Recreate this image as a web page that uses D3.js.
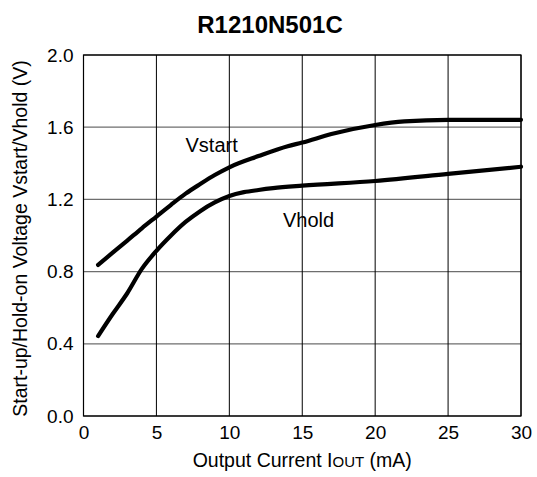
<!DOCTYPE html>
<html>
<head>
<meta charset="utf-8">
<script src="https://cdn.jsdelivr.net/npm/d3@7"></script>
<style>
  body { margin: 0; background: #fff; }
  text { font-family: "Liberation Sans", Arial, sans-serif; fill: #000; }
</style>
</head>
<body>
<div id="chart"></div>
<script>
// data: [Iout mA, volts]
var vstartData = [[1,0.837],[2,0.905],[3,0.972],[4,1.04],[5,1.105],[6,1.17],[7,1.232],[8,1.285],[9,1.335],[10,1.378],
  [12,1.44],[14,1.495],[15,1.515],[17,1.562],[20,1.612],[22,1.632],[25,1.641],[30,1.641]]
var vholdData = [[1,0.443],[2,0.565],[3,0.68],[4,0.815],[5,0.915],[6,1.0],[7,1.075],[8,1.135],[9,1.183],[10,1.219],
  [11,1.24],[12,1.252],[13,1.262],[15,1.276],[20,1.302],[25,1.341],[30,1.381]]
var xTicks = [0, 5, 10, 15, 20, 25, 30]
var yTicks = [0, 0.4, 0.8, 1.2, 1.6, 2.0]

var width = 537, height = 477
var margin = {top: 55, right: 16, bottom: 61, left: 83.5}

var svg = d3.select("#chart").append("svg")
  .attr("width", width)
  .attr("height", height)

var x = d3.scaleLinear().domain([0, 30]).range([margin.left, width - margin.right])
var y = d3.scaleLinear().domain([0, 2]).range([height - margin.bottom, margin.top])

// horizontal grid (grey)
svg.append("g").selectAll("line")
  .data(yTicks)
  .enter().append("line")
  .attr("x1", x(0)).attr("x2", x(30))
  .attr("y1", function(d) { return y(d) }).attr("y2", function(d) { return y(d) })
  .attr("stroke", "#6e6e6e")
  .attr("stroke-width", 1.3)

// vertical grid (black)
svg.append("g").selectAll("line")
  .data(xTicks)
  .enter().append("line")
  .attr("x1", function(d) { return x(d) }).attr("x2", function(d) { return x(d) })
  .attr("y1", y(0)).attr("y2", y(2))
  .attr("stroke", "#000")
  .attr("stroke-width", 1)

// frame
svg.append("rect")
  .attr("x", x(0)).attr("y", y(2))
  .attr("width", x(30) - x(0)).attr("height", y(0) - y(2))
  .attr("fill", "none")
  .attr("stroke", "#000")
  .attr("stroke-width", 1.2)

// axes, labels only
var xAxis = svg.append("g")
  .attr("transform", "translate(0," + y(0) + ")")
  .call(d3.axisBottom(x).tickValues(xTicks).tickSize(0).tickPadding(10).tickFormat(d3.format("d")))
xAxis.select(".domain").remove()
xAxis.selectAll("text").style("font-size", "19px").style("font-family", "Liberation Sans, Arial, sans-serif").attr("fill", "#000")

var yAxis = svg.append("g")
  .attr("transform", "translate(" + x(0) + ",0)")
  .call(d3.axisLeft(y).tickValues(yTicks).tickSize(0).tickPadding(10).tickFormat(d3.format(".1f")))
yAxis.select(".domain").remove()
yAxis.selectAll("text").style("font-size", "19px").style("font-family", "Liberation Sans, Arial, sans-serif").attr("fill", "#000")

// curves
var line = d3.line()
  .x(function(d) { return x(d[0]) })
  .y(function(d) { return y(d[1]) })
  .curve(d3.curveMonotoneX)

svg.append("path").datum(vstartData)
  .attr("d", line)
  .attr("fill", "none").attr("stroke", "#000")
  .attr("stroke-width", 4.2).attr("stroke-linecap", "round").attr("stroke-linejoin", "round")

svg.append("path").datum(vholdData)
  .attr("d", line)
  .attr("fill", "none").attr("stroke", "#000")
  .attr("stroke-width", 4.2).attr("stroke-linecap", "round").attr("stroke-linejoin", "round")

// curve labels
svg.append("text").attr("x", 185.5).attr("y", 152).style("font-size", "20px").text("Vstart")
svg.append("text").attr("x", 283).attr("y", 227).style("font-size", "20px").text("Vhold")

// title
svg.append("text")
  .attr("x", 270).attr("y", 33)
  .attr("text-anchor", "middle")
  .style("font-size", "24px").style("font-weight", "bold")
  .text("R1210N501C")

// x label with small-caps subscript
var xl = svg.append("text")
  .attr("x", (x(0) + x(30)) / 2).attr("y", 467)
  .attr("text-anchor", "middle")
  .style("font-size", "19.5px")
xl.append("tspan").text("Output Current I")
xl.append("tspan").style("font-size", "15px").text("OUT")
xl.append("tspan").text(" (mA)")

// y label
svg.append("text")
  .attr("transform", "translate(27," + (y(1) + 3) + ") rotate(-90)")
  .attr("text-anchor", "middle")
  .style("font-size", "19.5px")
  .text("Start-up/Hold-on Voltage Vstart/Vhold (V)")
</script>
</body>
</html>
